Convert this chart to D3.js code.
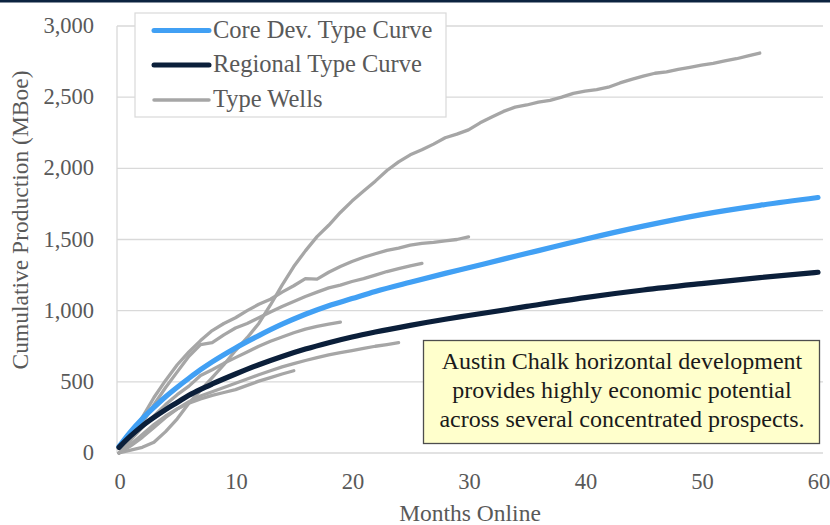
<!DOCTYPE html>
<html><head><meta charset="utf-8">
<script src="https://cdn.jsdelivr.net/npm/d3@7"></script>
<style>
html,body{margin:0;padding:0;background:#fff;}
svg{display:block;}
text{font-family:"Liberation Serif","Times New Roman",serif;}
</style></head>
<body><svg id="c" width="830" height="525"></svg>
<script>
// ---- data ----
const coreMonths  = [0,1,2,3,4,5,6,7,8,10,12,14,16,18,20,22,25,28,30,33,36,40,45,50,55,60];
const coreValues  = [45,150,240,320,395,462,525,585,640,738,825,905,975,1035,1085,1135,1200,1262,1302,1362,1422,1502,1594,1675,1740,1795];
const regMonths   = [0,1,2,3,4,5,6,7,8,10,12,14,16,18,20,22,25,28,30,35,40,45,50,55,60];
const regValues   = [40,120,190,250,305,355,405,447,485,555,620,678,730,775,815,850,897,940,966,1030,1092,1145,1190,1232,1270];
const wellA = [0,20,40,75,150,240,350,440,530,620,720,810,910,1040,1180,1310,1420,1520,1600,1690,1770,1840,1910,1985,2045,2095,2130,2170,2215,2240,2270,2320,2360,2400,2430,2445,2465,2478,2500,2527,2542,2553,2570,2600,2625,2648,2668,2678,2695,2710,2725,2738,2755,2770,2790,2810];
const wellB = [0,110,250,390,510,620,710,790,860,910,950,1000,1045,1080,1130,1175,1225,1222,1270,1310,1345,1375,1400,1424,1440,1460,1473,1480,1490,1500,1518];
const wellC = [0,90,210,340,460,570,680,762,775,830,878,910,950,990,1030,1065,1100,1130,1160,1180,1205,1225,1250,1275,1295,1315,1332];
const wellD = [0,90,180,260,340,410,470,545,585,630,670,710,750,785,815,845,870,890,905,920];
const wellE = [0,50,110,180,250,310,360,400,430,460,490,520,550,578,605,628,650,670,690,706,720,735,750,762,775];
const wellF = [0,60,130,200,260,310,350,380,405,425,445,475,505,530,555,578];
const typeWells = [wellA, wellB, wellC, wellD, wellE, wellF];
const xTicks = [0,10,20,30,40,50,60];
const yTicks = [0,500,1000,1500,2000,2500,3000];
const legendLabels = ["Core Dev. Type Curve","Regional Type Curve","Type Wells"];
const noteLines = ["Austin Chalk horizontal development","provides highly economic potential","across several concentrated prospects."];

// ---- styles ----
const C_CORE = "#41a0f4", C_REG = "#0b1f3a", C_WELL = "#a6a6a6", C_GRID = "#d9d9d9", C_TXT = "#595959";

const svg = d3.select("#c");
const x = d3.scaleLinear().domain([0,60]).range([119,818]);
const y = d3.scaleLinear().domain([0,3000]).range([453,26]);
const plotL = 117, plotR = 823;

// top navy rule
svg.append("rect").attr("x",0).attr("y",0).attr("width",830).attr("height",2.5).attr("fill","#0c2340");

// gridlines
svg.append("g").selectAll("line").data(yTicks).join("line")
  .attr("x1",plotL).attr("x2",plotR).attr("y1",d=>y(d)).attr("y2",d=>y(d))
  .attr("stroke",C_GRID).attr("stroke-width",1.3);
svg.append("line").attr("x1",plotL).attr("x2",plotL).attr("y1",y(3000)).attr("y2",y(0))
  .attr("stroke",C_GRID).attr("stroke-width",1.3);

// y tick labels
svg.append("g").selectAll("text").data(yTicks).join("text")
  .attr("x",94).attr("y",d=>y(d)+7).attr("text-anchor","end")
  .attr("font-size",22.5).attr("fill",C_TXT)
  .text(d=>d3.format(",")(d));
// x tick labels
svg.append("g").selectAll("text").data(xTicks).join("text")
  .attr("x",d=>x(d)+1).attr("y",489).attr("text-anchor","middle")
  .attr("font-size",22.5).attr("fill",C_TXT).text(d=>d);

// axis titles
svg.append("text").attr("x",470).attr("y",521).attr("text-anchor","middle")
  .attr("font-size",23.5).attr("fill",C_TXT).text("Months Online");
svg.append("text").attr("transform","translate(28,220) rotate(-90)").attr("text-anchor","middle")
  .attr("font-size",23.5).attr("fill",C_TXT).text("Cumulative Production (MBoe)");

// lines
const lineLin = d3.line().x(d=>x(d[0])).y(d=>y(d[1]));
const lineSmooth = d3.line().x(d=>x(d[0])).y(d=>y(d[1])).curve(d3.curveMonotoneX);
const g = svg.append("g");
typeWells.forEach(w=>{
  g.append("path").datum(w.map((v,i)=>[i,v])).attr("d",lineLin)
    .attr("fill","none").attr("stroke",C_WELL).attr("stroke-width",3.3)
    .attr("stroke-linejoin","round").attr("stroke-linecap","round");
});
g.append("path").datum(coreMonths.map((m,i)=>[m,coreValues[i]])).attr("d",lineSmooth)
  .attr("fill","none").attr("stroke",C_CORE).attr("stroke-width",5.2).attr("stroke-linecap","round");
g.append("path").datum(regMonths.map((m,i)=>[m,regValues[i]])).attr("d",lineSmooth)
  .attr("fill","none").attr("stroke",C_REG).attr("stroke-width",5.2).attr("stroke-linecap","round");

// legend
const lg = svg.append("g");
lg.append("rect").attr("x",135).attr("y",13).attr("width",311).attr("height",104)
  .attr("fill","#fff").attr("stroke",C_GRID).attr("stroke-width",1.2);
const legColors = [C_CORE, C_REG, C_WELL];
const legY = [30.5, 65, 100];
legendLabels.forEach((t,i)=>{
  lg.append("line").attr("x1",154).attr("x2",209).attr("y1",legY[i]).attr("y2",legY[i])
    .attr("stroke",legColors[i]).attr("stroke-width",i==2?3.5:5).attr("stroke-linecap","round");
  lg.append("text").attr("x",213).attr("y",legY[i]+7).attr("font-size",24.5)
    .attr("fill",C_TXT).text(t);
});

// annotation box
const ag = svg.append("g");
ag.append("rect").attr("x",423.5).attr("y",340.5).attr("width",396).attr("height",103)
  .attr("fill","#ffffcc").attr("stroke","#4d4d4d").attr("stroke-width",1.3);
noteLines.forEach((t,i)=>{
  ag.append("text").attr("x",622).attr("y",369+i*29).attr("text-anchor","middle")
    .attr("font-size",24).attr("fill","#1a1a1a").text(t);
});
</script>
</body></html>
